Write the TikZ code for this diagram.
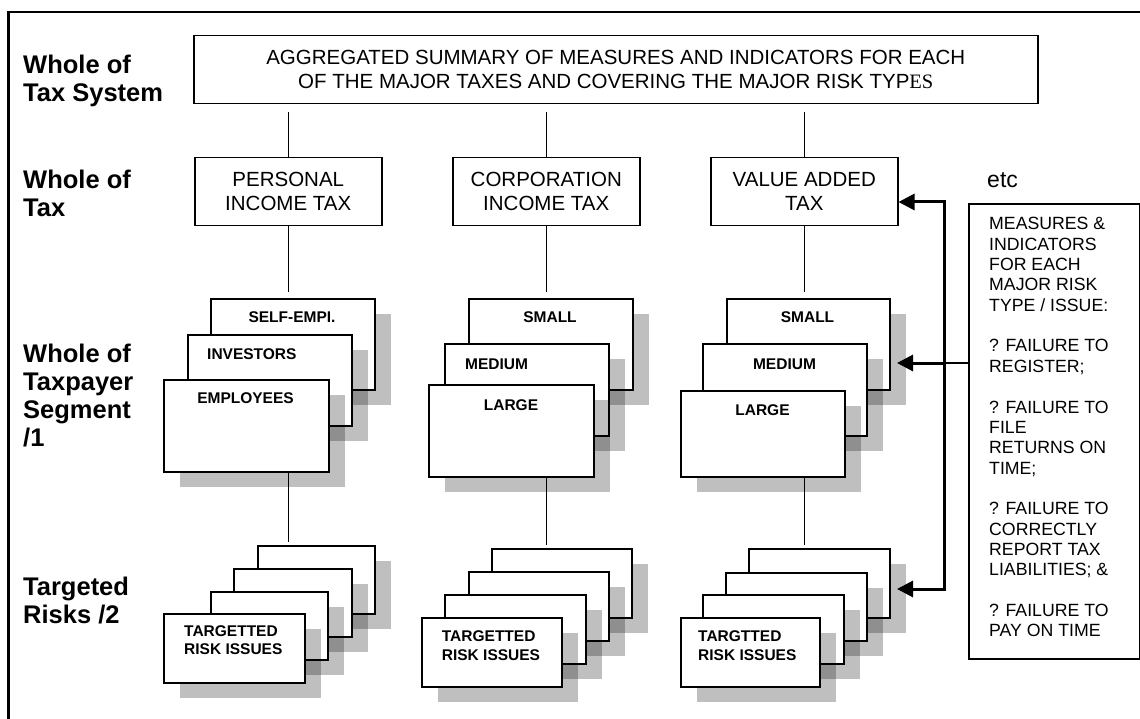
\documentclass[tikz,border=0pt]{standalone}
\usepackage{fontspec}
\setmainfont{Liberation Sans}
\newfontfamily\tnrfont{Liberation Serif}
\usetikzlibrary{arrows.meta,shadows}
\begin{document}
\begin{tikzpicture}[x=1pt,y=-1pt,
  box/.style={draw, line width=1.5pt, fill=white, inner sep=0pt, anchor=north west},
  card/.style={draw, line width=1.8pt, fill=white, inner sep=0pt, anchor=north west,
    general shadow={shadow xshift=16pt, shadow yshift=-15pt, fill=black, opacity=0.25}},
  lvl/.style={font=\fontsize{25.5}{28}\selectfont\bfseries, align=left, inner sep=0pt, anchor=north west},
  big/.style={font=\fontsize{20.5}{24}\selectfont, align=center},
  segtxt/.style={font=\fontsize{15.5}{18.3}\selectfont\bfseries, inner sep=0pt},
  risktxt/.style={segtxt, align=left, anchor=north west},
  conn/.style={line width=1.5pt},
  bus/.style={line width=3pt},
  tipb/.style={-{Triangle[length=16pt,width=16pt]}},
]
\useasboundingbox (0,0) rectangle (1140,719);
\fill[white] (0,0) rectangle (1140,719);
% frame
\draw[line width=2.5pt] (8.7,719) -- (8.7,12) -- (1140,12);

% level labels
\node[lvl] (L1) at (23,54.5) {Whole of\\Tax System};
\node[lvl] (L2) at (23,169.5) {Whole of\\Tax};
\node[lvl] (L3) at (23,343.5) {Whole of\\Taxpayer\\Segment\\/1};
\node[lvl] (L4) at (23,576.7) {Targeted\\Risks /2};

% top box
\node[box, big, minimum width=844, minimum height=68] (top) at (193,35)
  {AGGREGATED SUMMARY OF MEASURES AND INDICATORS FOR EACH\\OF THE MAJOR TAXES AND COVERING THE MAJOR RISK TYP{\tnrfont ES}};

% tax boxes
\node[box, big, minimum width=187, minimum height=68] (pit) at (194,157) {PERSONAL\\INCOME TAX};
\node[box, big, minimum width=187, minimum height=68] (cit) at (452,157) {CORPORATION\\INCOME TAX};
\node[box, big, minimum width=187, minimum height=68] (vat) at (710,157) {VALUE ADDED\\TAX};

% segment cards: personal
\node[card, minimum width=164, minimum height=91] (pa) at (210,298) {};
\node[segtxt, anchor=base] (pat) at (292,323) {SELF-EMPI.};
\node[card, minimum width=164, minimum height=91] (pb) at (187,334) {};
\node[segtxt, anchor=base west] (pbt) at (207,359) {INVESTORS};
\node[card, minimum width=165, minimum height=92] (pc) at (163,379) {};
\node[segtxt, anchor=base] (pct) at (245.5,403) {EMPLOYEES};

% segment cards: corporation
\node[card, minimum width=164, minimum height=91] (ca) at (468,298) {};
\node[segtxt, anchor=base] (cat) at (550,323) {SMALL};
\node[card, minimum width=164, minimum height=92] (cb) at (444,343) {};
\node[segtxt, anchor=base west] (cbt) at (465,369) {MEDIUM};
\node[card, minimum width=165, minimum height=92] (cc) at (428,384) {};
\node[segtxt, anchor=base] (cct) at (511,410) {LARGE};

% segment cards: VAT
\node[card, minimum width=163, minimum height=91] (va) at (726,298) {};
\node[segtxt, anchor=base] (vat1) at (807.5,323) {SMALL};
\node[card, minimum width=164, minimum height=92] (vb) at (702,343) {};
\node[segtxt, anchor=base] (vbt) at (784.5,369) {MEDIUM};
\node[card, minimum width=164, minimum height=86] (vc) at (680,390) {};
\node[segtxt, anchor=base] (vct) at (762.5,415) {LARGE};

% risk cards: personal
\node[card, minimum width=117, minimum height=68] (pr1) at (257,545) {};
\node[card, minimum width=118, minimum height=68] (pr2) at (233,568) {};
\node[card, minimum width=117, minimum height=68] (pr3) at (210,591) {};
\node[card, minimum width=141, minimum height=69] (pr4) at (163,613) {};
\node[risktxt] (prt) at (184,625) {TARGETTED\\RISK ISSUES};

% risk cards: corporation
\node[card, minimum width=140, minimum height=69] (cr1) at (491,548) {};
\node[card, minimum width=140, minimum height=69] (cr2) at (468,571) {};
\node[card, minimum width=141, minimum height=69] (cr3) at (444,594) {};
\node[card, minimum width=140, minimum height=69] (cr4) at (421,617) {};
\node[risktxt] (crt) at (441.7,630.7) {TARGETTED\\RISK ISSUES};

% risk cards: VAT
\node[card, minimum width=141, minimum height=69] (vr1) at (748,548) {};
\node[card, minimum width=141, minimum height=68] (vr2) at (725,572) {};
\node[card, minimum width=141, minimum height=69] (vr3) at (702,594) {};
\node[card, minimum width=139, minimum height=69] (vr4) at (680,617) {};
\node[risktxt] (vrt) at (698,630.7) {TARGTTED\\RISK ISSUES};

% connectors
\draw[conn, shorten <=8pt] (top.south -| pit.north) -- (pit.north);
\draw[conn, shorten <=8pt] (top.south -| cit.north) -- (cit.north);
\draw[conn, shorten <=8pt] (top.south -| vat.north) -- (vat.north);
\draw[conn, shorten >=6pt] (pit.south) -- (pit.south |- pa.north);
\draw[conn, shorten >=6pt] (cit.south) -- (cit.south |- ca.north);
\draw[conn, shorten >=6pt] (vat.south) -- (vat.south |- va.north);
\draw[conn, shorten >=3pt] (pit.south |- pc.south) -- (pit.south |- pr1.north);
\draw[conn, shorten >=3pt] (cit.south |- cc.south) -- (cit.south |- cr1.north);
\draw[conn, shorten >=3pt] (vat.south |- vc.south) -- (vat.south |- vr1.north);

% measures box
\node[box, line width=1.6pt, minimum width=171, minimum height=455] (meas) at (968,203) {};
\node[anchor=north west, inner sep=0pt, align=left, font=\fontsize{17.7}{20.35}\selectfont] (measT) at (989,217.3)
  {MEASURES \&\\INDICATORS\\FOR EACH\\MAJOR RISK\\TYPE / ISSUE:\\[20.35pt]? FAILURE TO\\REGISTER;\\[20.35pt]? FAILURE TO\\FILE\\RETURNS ON\\TIME;\\[20.35pt]? FAILURE TO\\CORRECTLY\\REPORT TAX\\LIABILITIES; \&\\[20.35pt]? FAILURE TO\\PAY ON TIME};
\node[anchor=base west, inner sep=0pt, font=\fontsize{23}{26}\selectfont] (etc) at (987,188) {etc};

% feedback arrows
\coordinate (jt) at (944,202);
\coordinate (jm) at (944,363);
\coordinate (jb) at (944,589);
\coordinate (tm) at (897,363);
\coordinate (tb) at (897,589);
\draw[bus, {Triangle[length=16pt,width=16pt]}-{Triangle[length=16pt,width=16pt]}] (vat.east |- jt) -- (jt) -- (jb) -- (tb);
\draw[bus, tipb] (jm) -- (tm);
\draw[conn] (meas.west |- jm) -- (jm);
\end{tikzpicture}
\end{document}
